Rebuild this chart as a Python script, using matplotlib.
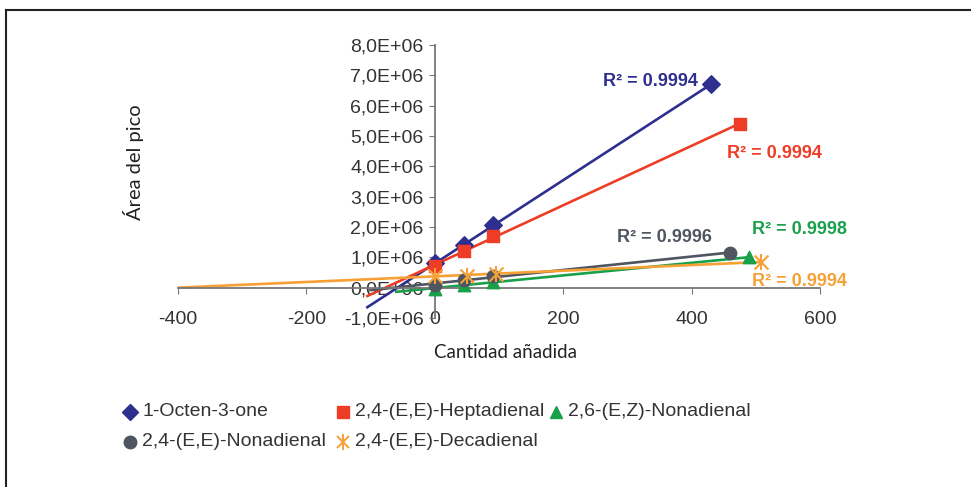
import matplotlib
matplotlib.use("Agg")
import matplotlib.pyplot as plt
import numpy as np
from matplotlib.lines import Line2D
from matplotlib.ticker import FuncFormatter

# series data (x = amount added, y = peak area)
names = ["1-Octen-3-one", "2,4-(E,E)-Heptadienal", "2,6-(E,Z)-Nonadienal",
         "2,4-(E,E)-Nonadienal", "2,4-(E,E)-Decadienal"]
octenone_x = [0, 45, 90, 430]
octenone_y = [0.8e6, 1.4e6, 2.05e6, 6.7e6]
heptadienal_x = [0, 45, 90, 475]
heptadienal_y = [0.7e6, 1.2e6, 1.7e6, 5.4e6]
nonadienal26_x = [0, 45, 90, 490]
nonadienal26_y = [-0.05e6, 0.1e6, 0.2e6, 1.0e6]
nonadienal24_x = [0, 45, 90, 460]
nonadienal24_y = [0.1e6, 0.25e6, 0.38e6, 1.15e6]
decadienal_x = [0, 50, 95, 508]
decadienal_y = [0.4e6, 0.4e6, 0.45e6, 0.85e6]
r2_labels = ["0.9994", "0.9994", "0.9998", "0.9996", "0.9994"]
# how far back each trendline is forecast
trend_start = [-105, -105, -60, -100, -400]

x_ticks = [-400, -200, 0, 200, 400, 600]
y_ticks = np.arange(-1e6, 8.01e6, 1e6)

colors = ["#2E2F8F", "#EE3D26", "#18A04A", "#4F5661", "#F6A035"]
markers = ["D", "s", "^", "o", "*"]

series = [
    (octenone_x, octenone_y),
    (heptadienal_x, heptadienal_y),
    (nonadienal26_x, nonadienal26_y),
    (nonadienal24_x, nonadienal24_y),
    (decadienal_x, decadienal_y),
]

plt.rcParams["font.family"] = ["Liberation Sans", "DejaVu Sans"]
plt.rcParams["axes.unicode_minus"] = False

fig = plt.figure(figsize=(9.71, 4.87), dpi=100)
ax = fig.add_axes([178 / 971, 1 - 318 / 487, 642 / 971, 273 / 487])

for (xs, ys), c, m, x0 in zip(series, colors, markers, trend_start):
    slope, icpt = np.polyfit(xs, ys, 1)
    xl = np.array([x0, max(xs)])
    ax.plot(xl, slope * xl + icpt, color=c, lw=1.9, zorder=2)
    if m == "*":
        # excel-style star: an x with a vertical bar
        ax.scatter(xs, ys, marker="x", s=100, color=c, lw=1.5, zorder=3)
        ax.scatter(xs, ys, marker="|", s=130, color=c, lw=1.5, zorder=3)
    else:
        ax.scatter(xs, ys, marker=m, s=80, color=c, zorder=3)

ax.set_xlim(-400, 600)
ax.set_ylim(-1e6, 8e6)
ax.spines["left"].set_position(("data", 0))
ax.spines["bottom"].set_position(("data", 0))
for s in ["top", "right"]:
    ax.spines[s].set_visible(False)
for s in ["left", "bottom"]:
    ax.spines[s].set_color("#777777")
    ax.spines[s].set_linewidth(1.3)
ax.set_xticks(x_ticks)
ax.set_yticks(y_ticks)
ax.yaxis.set_major_formatter(FuncFormatter(lambda v, p: f"{v / 1e6:.1f}E+06".replace(".", ",").replace("-0,0", "0,0")))
ax.tick_params(axis="y", direction="out", length=4, color="#777777", labelsize=14,
               labelcolor="#333333", pad=4)
ax.tick_params(axis="x", direction="out", length=4, color="#777777", labelsize=14,
               labelcolor="#333333", pad=12.5)
ax.patch.set_visible(False)

# R² labels
r2_pos = [(603, 82), (727, 154), (752, 229), (617, 238), (752, 281)]
for (px, py), c, r in zip(r2_pos, colors, r2_labels):
    fig.text(px / 971, 1 - py / 487, f"R² = {r}", color=c,
             fontsize=13, fontweight="bold", ha="left", va="center")

fig.text(505 / 971, 1 - 352 / 487, "Cantidad añadida", fontsize=13.5,
         family=["Lato", "DejaVu Sans"], color="#222222", ha="center", va="center")
fig.text(133 / 971, 1 - 162 / 487, "Área del pico", fontsize=14.5, rotation=90,
         family=["Lato", "DejaVu Sans"], color="#222222", ha="center", va="center")

# legend laid out like the original (three equal columns, two rows)
leg_pos = [(130, 412), (343, 412), (556, 412), (130, 442), (343, 442)]
for (px, py), name, c, m in zip(leg_pos, names, colors, markers):
    fx, fy = px / 971, 1 - py / 487
    if m == "*":
        fig.add_artist(Line2D([fx], [fy], marker="x", ms=9, mew=1.4, color=c, ls="none"))
        fig.add_artist(Line2D([fx], [fy], marker="|", ms=11, mew=1.4, color=c, ls="none"))
    else:
        fig.add_artist(Line2D([fx], [fy], marker=m, ms=9 if m != "D" else 8, color=c, ls="none"))
    fig.text(fx + 12 / 971, fy, name, fontsize=14, color="#333333", ha="left", va="center")

# outer frame (top and left edges only)
fig.add_artist(Line2D([6 / 971, 1], [1 - 10 / 487] * 2, color="#222222", lw=1.5))
fig.add_artist(Line2D([6 / 971] * 2, [0, 1 - 10 / 487], color="#222222", lw=1.5))

fig.savefig("out.png", dpi=100)
